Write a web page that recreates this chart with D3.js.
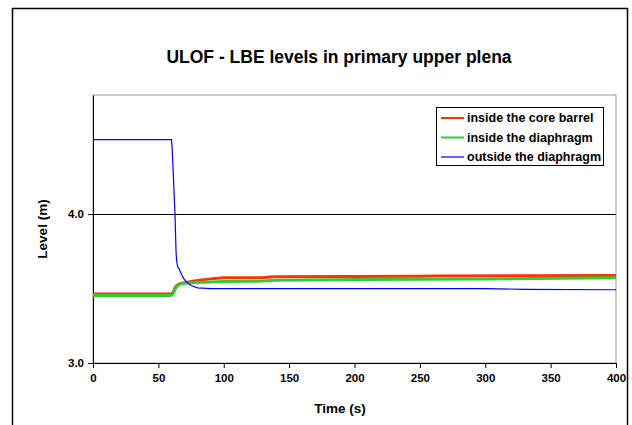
<!DOCTYPE html>
<html><head><meta charset="utf-8">
<script src="https://cdn.jsdelivr.net/npm/d3@7"></script>
<style>body{margin:0;background:#fff;font-family:"Liberation Sans",Arial,sans-serif;}</style>
</head><body><svg id="c" width="632" height="425"></svg>
<script>
const title = "ULOF - LBE levels in primary upper plena";
const xTicks = [0,50,100,150,200,250,300,350,400];
const yTicks = [3.0, 4.0];
const seriesNames = ["inside the core barrel","inside the diaphragm","outside the diaphragm"];
const seriesColors = ["#ff3300","#33cc33","#0000ff"];
const coreTime =  [0,59.5,61,62,63,65,67,70,80,90,100,130,135,140,250,260,400];
const coreLevel = [3.463,3.463,3.47,3.49,3.51,3.525,3.535,3.54,3.555,3.565,3.572,3.573,3.578,3.58,3.583,3.585,3.587];
const diaTime =  [0,59.5,61,62,63,65,67,70,80,100,130,140,200,300,400];
const diaLevel = [3.453,3.453,3.46,3.48,3.50,3.52,3.53,3.535,3.54,3.548,3.55,3.555,3.56,3.565,3.572];
const outTime =  [0,60,60.5,61,62,62.7,63.5,64,65,66,67,68.5,70,72,75,80,90,200,300,330,400];
const outLevel = [4.5,4.5,4.45,4.35,4.15,4.0,3.75,3.68,3.64,3.63,3.61,3.58,3.56,3.54,3.52,3.505,3.5,3.5,3.5,3.495,3.492];

const svg = d3.select("#c");
const L=93,R=616,T=95,B=363;
const x = d3.scaleLinear().domain([0,400]).range([L,R]);
const y = d3.scaleLinear().domain([3.0,4.8]).range([B,T]);

// outer frame
svg.append("rect").attr("x",12.5).attr("y",8.5).attr("width",615).attr("height",430)
  .attr("fill","none").attr("stroke","#000").attr("stroke-width",1.5);

svg.append("text").attr("x",339).attr("y",63).attr("text-anchor","middle")
  .attr("font-size","17.5px").attr("font-weight","bold").text(title);

// plot area border (gray)
svg.append("rect").attr("x",L).attr("y",T).attr("width",R-L).attr("height",B-T)
  .attr("fill","none").attr("stroke","#999").attr("stroke-width",1);

// gridline at 4.0
svg.append("g").selectAll("line").data(yTicks.filter(d=>d>3)).join("line")
  .attr("x1",L).attr("x2",R).attr("y1",d=>Math.round(y(d))+0.5).attr("y2",d=>Math.round(y(d))+0.5)
  .attr("stroke","#000").attr("stroke-width",1);

const xAxis = svg.append("g").attr("transform",`translate(0,${B})`)
  .call(d3.axisBottom(x).tickValues(xTicks).tickSize(5).tickSizeOuter(0).tickPadding(6).tickFormat(d3.format("d")));
const yAxis = svg.append("g").attr("transform",`translate(${L},0)`)
  .call(d3.axisLeft(y).tickValues(yTicks).tickSize(5).tickSizeOuter(0).tickPadding(4).tickFormat(d3.format(".1f")));
[xAxis,yAxis].forEach(a=>{
  a.select(".domain").attr("stroke","#000");
  a.selectAll("line").attr("stroke","#000");
  a.selectAll("text").attr("font-family","Liberation Sans, Arial, sans-serif")
    .attr("font-size","11.5px").attr("font-weight","bold").attr("fill","#000");
});

svg.append("text").attr("x",340).attr("y",413).attr("text-anchor","middle")
  .attr("font-size","13.5px").attr("font-weight","bold").text("Time (s)");
svg.append("text").attr("transform","translate(47,229) rotate(-90)").attr("text-anchor","middle")
  .attr("font-size","13.5px").attr("font-weight","bold").text("Level (m)");

const series = [
  {t:coreTime,v:coreLevel,w:3},
  {t:diaTime,v:diaLevel,w:3},
  {t:outTime,v:outLevel,w:1.2}
];
const line = d3.line().x(d=>x(d[0])).y(d=>y(d[1]));
svg.append("clipPath").attr("id","cp").append("rect").attr("x",L).attr("y",T).attr("width",R-L).attr("height",B-T);
series.forEach((s,i)=>{
  svg.append("path").attr("clip-path","url(#cp)")
    .attr("d",line(s.t.map((t,k)=>[t,s.v[k]])))
    .attr("fill","none").attr("stroke",seriesColors[i]).attr("stroke-width",s.w);
});

// legend
const lg = svg.append("g");
lg.append("rect").attr("x",436.5).attr("y",107.5).attr("width",167).attr("height",58)
  .attr("fill","#fff").attr("stroke","#000").attr("stroke-width",1);
seriesNames.forEach((n,i)=>{
  const yy = 118 + i*19.5;
  lg.append("line").attr("x1",441).attr("x2",464).attr("y1",yy).attr("y2",yy)
    .attr("stroke",seriesColors[i]).attr("stroke-width",i<2?2:1.2);
  lg.append("text").attr("x",467).attr("y",yy+4).attr("font-size","12.5px").attr("font-weight","bold").text(n);
});
</script></body></html>
